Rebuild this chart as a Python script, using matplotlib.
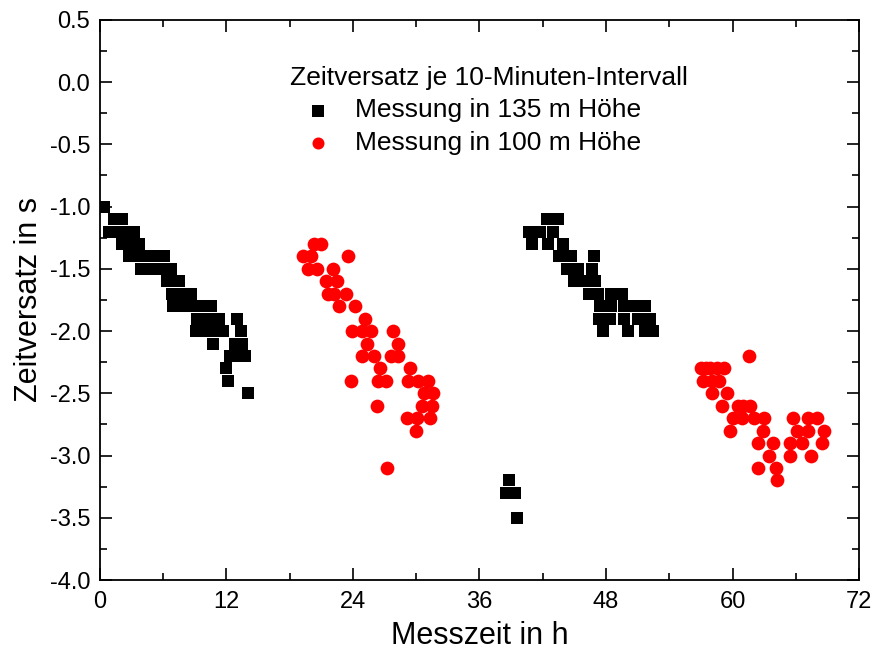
import numpy as np
import matplotlib
matplotlib.use("Agg")
import matplotlib.pyplot as plt
from matplotlib.ticker import MultipleLocator

plt.rcParams['font.family'] = ['Liberation Sans', 'DejaVu Sans']

# Messung in 135 m Hoehe (schwarz), Zeit in h, Zeitversatz in s
t135 = [0.4,
        1.3, 1.7, 2.1,
        0.9, 1.4, 2.0, 2.6, 3.2,
        2.1, 2.7, 3.2, 3.7,
        2.8, 3.4, 4.0, 4.6, 5.2, 5.6, 6.1,
        3.9, 4.5, 5.1, 5.7, 6.2, 6.7,
        6.4, 7.0, 7.5,
        6.8, 7.4, 8.0, 8.6,
        6.9, 7.6, 8.3, 9.0, 9.7, 10.5,
        9.2, 9.9, 10.6, 11.3, 13.0,
        9.1, 9.8, 10.5, 11.2, 11.7, 13.4,
        10.7, 12.8, 13.5,
        12.3, 12.9, 13.3, 13.8,
        12.0, 12.1, 14.0,
        # zweiter Abschnitt
        38.8, 38.5, 39.4, 39.6,
        42.4, 43.4,
        40.7, 41.7, 43.0,
        41.0, 42.5, 43.9,
        43.5, 44.7, 46.9,
        44.3, 45.3, 46.7,
        45.0, 46.0, 47.0,
        46.4, 47.2, 48.5, 49.5,
        47.4, 48.5, 49.7, 50.8, 51.7,
        47.3, 48.4, 49.7, 51.0, 52.2,
        47.7, 50.1, 51.7, 52.5]
v135 = [-1.0,
        -1.1, -1.1, -1.1,
        -1.2, -1.2, -1.2, -1.2, -1.2,
        -1.3, -1.3, -1.3, -1.3,
        -1.4, -1.4, -1.4, -1.4, -1.4, -1.4, -1.4,
        -1.5, -1.5, -1.5, -1.5, -1.5, -1.5,
        -1.6, -1.6, -1.6,
        -1.7, -1.7, -1.7, -1.7,
        -1.8, -1.8, -1.8, -1.8, -1.8, -1.8,
        -1.9, -1.9, -1.9, -1.9, -1.9,
        -2.0, -2.0, -2.0, -2.0, -2.0, -2.0,
        -2.1, -2.1, -2.1,
        -2.2, -2.2, -2.2, -2.2,
        -2.3, -2.4, -2.5,
        -3.2, -3.3, -3.3, -3.5,
        -1.1, -1.1,
        -1.2, -1.2, -1.2,
        -1.3, -1.3, -1.3,
        -1.4, -1.4, -1.4,
        -1.5, -1.5, -1.5,
        -1.6, -1.6, -1.6,
        -1.7, -1.7, -1.7, -1.7,
        -1.8, -1.8, -1.8, -1.8, -1.8,
        -1.9, -1.9, -1.9, -1.9, -1.9,
        -2.0, -2.0, -2.0, -2.0]

# Messung in 100 m Hoehe (rot)
t100 = [20.3, 21.0,
        19.3, 20.0, 23.5,
        19.7, 20.6, 22.1,
        21.4, 22.5,
        21.6, 22.2, 23.3,
        22.7, 24.2,
        25.1,
        23.9, 24.9, 25.7, 27.8,
        25.3, 28.3,
        24.9, 26.0, 27.6, 28.3,
        26.6, 29.4,
        23.8, 26.4, 27.1, 29.2, 30.2, 31.1,
        30.7, 31.6,
        26.3, 30.5, 31.5,
        29.1, 30.1, 31.3,
        30.0,
        27.2,
        # zweiter Abschnitt
        61.6,
        57.0, 57.5, 57.9, 58.5, 59.2,
        57.2, 58.1, 58.7,
        58.1, 59.5,
        59.0, 60.5, 61.0, 61.7,
        60.0, 60.9, 62.0, 63.0, 65.7, 67.2, 68.0,
        59.8, 62.9, 66.1, 67.2, 68.7,
        62.4, 63.8, 65.5, 66.6, 68.5,
        63.5, 65.5, 67.4,
        62.4, 64.1,
        64.2]
v100 = [-1.3, -1.3,
        -1.4, -1.4, -1.4,
        -1.5, -1.5, -1.5,
        -1.6, -1.6,
        -1.7, -1.7, -1.7,
        -1.8, -1.8,
        -1.9,
        -2.0, -2.0, -2.0, -2.0,
        -2.1, -2.1,
        -2.2, -2.2, -2.2, -2.2,
        -2.3, -2.3,
        -2.4, -2.4, -2.4, -2.4, -2.4, -2.4,
        -2.5, -2.5,
        -2.6, -2.6, -2.6,
        -2.7, -2.7, -2.7,
        -2.8,
        -3.1,
        -2.2,
        -2.3, -2.3, -2.3, -2.3, -2.3,
        -2.4, -2.4, -2.4,
        -2.5, -2.5,
        -2.6, -2.6, -2.6, -2.6,
        -2.7, -2.7, -2.7, -2.7, -2.7, -2.7, -2.7,
        -2.8, -2.8, -2.8, -2.8, -2.8,
        -2.9, -2.9, -2.9, -2.9, -2.9,
        -3.0, -3.0, -3.0,
        -3.1, -3.1,
        -3.2]

fig = plt.figure(figsize=(8.77, 6.64), dpi=100)
ax = fig.add_axes([0.114, 0.1265, 0.8655, 0.8435])

ax.scatter(t135, v135, marker='s', s=82, c='black', linewidths=0,
           label='Messung in 135 m Höhe', zorder=3)
ax.scatter(t100, v100, marker='o', s=98, c='red', linewidths=0,
           label='Messung in 100 m Höhe', zorder=3)

ax.set_xlim(0, 72)
ax.set_ylim(-4.0, 0.5)
ax.xaxis.set_major_locator(MultipleLocator(12))
ax.xaxis.set_minor_locator(MultipleLocator(6))
ax.yaxis.set_major_locator(MultipleLocator(0.5))
ax.yaxis.set_minor_locator(MultipleLocator(0.25))
ax.yaxis.set_major_formatter(matplotlib.ticker.FormatStrFormatter('%.1f'))

ax.tick_params(which='both', direction='in', top=True, right=True, width=1.2)
ax.tick_params(which='major', length=8.5, labelsize=17)
ax.tick_params(which='minor', length=5)
ax.tick_params(axis='x', pad=8)
ax.tick_params(axis='y', pad=7)
for sp in ax.spines.values():
    sp.set_linewidth(1.3)

ax.set_xlabel('Messzeit in h', fontsize=22, labelpad=6)
ax.set_ylabel('Zeitversatz in s', fontsize=22, labelpad=4)

leg = ax.legend(title='Zeitversatz je 10-Minuten-Intervall', frameon=False,
                loc='upper left', bbox_to_anchor=(290 / 877, 1 - 66 / 664),
                bbox_transform=fig.transFigure, fontsize=19,
                title_fontsize=19, borderpad=0, borderaxespad=0,
                handlelength=2.1, handletextpad=0.38, labelspacing=0.32,
                alignment='left', scatterpoints=1)
for h in leg.legend_handles:
    h.set_sizes([75])

fig.savefig('out.png', dpi=100)
